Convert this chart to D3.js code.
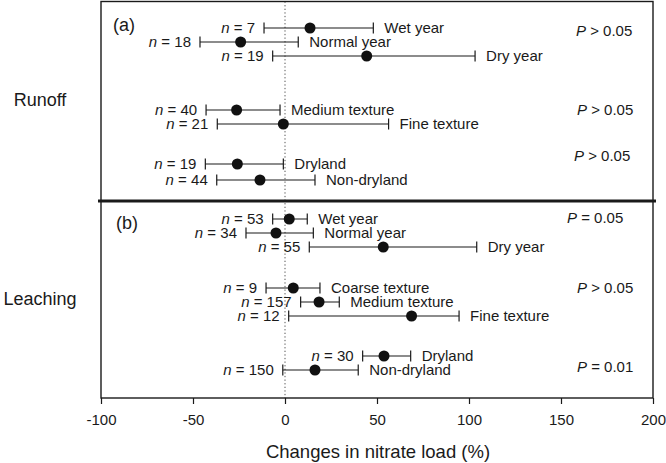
<!DOCTYPE html>
<html>
<head>
<meta charset="utf-8">
<script src="https://cdn.jsdelivr.net/npm/d3@7"></script>
<style>
  body { margin: 0; background: #fff; }
  svg { display: block; font-family: "Liberation Sans", Arial, sans-serif; }
</style>
</head>
<body>
<svg id="chart"></svg>
<script>
// data
var panelTags = ["(a)", "(b)"];
var sideLabels = ["Runoff", "Leaching"];
var pLabels = [["P", " > 0.05"], ["P", " > 0.05"], ["P", " > 0.05"], ["P", " = 0.05"], ["P", " > 0.05"], ["P", " = 0.01"]];
var rowGroup = [0, 0, 0, 1, 1, 2, 2, 3, 3, 3, 4, 4, 4, 5, 5];
var rowLabels = ["Wet year", "Normal year", "Dry year", "Medium texture", "Fine texture", "Dryland", "Non-dryland",
                 "Wet year", "Normal year", "Dry year", "Coarse texture", "Medium texture", "Fine texture", "Dryland", "Non-dryland"];
var nValues = [7, 18, 19, 40, 21, 19, 44, 53, 34, 55, 9, 157, 12, 30, 150];
var means = [13.6, -24.1, 44.4, -26.3, -0.9, -25.9, -13.6, 2.3, -4.9, 53.4, 4.5, 18.5, 68.8, 53.8, 16.3];
var lower = [-11.4, -46.2, -6.7, -42.9, -36.8, -43.3, -37.1, -6.7, -21.2, 13.2, -10.3, 8.5, 2, 42.2, -1.2];
var upper = [48, 7.2, 103.3, -2.7, 56.3, -0.9, 16.3, 12.1, 15.4, 104.2, 19, 29.5, 94.6, 68.3, 39.8];
var xTicks = [-100, -50, 0, 50, 100, 150, 200];
var xTitle = "Changes in nitrate load (%)";

// layout
var W = 666, H = 463;
var plotL = 101, plotR = 653, plotT = 1.5, plotB = 398, divY = 201;
var groupTop = [28, 110, 164, 219, 288, 356];
var groupStep = [14, 14, 16, 14, 14, 14];
var pY = [36, 115, 161, 223, 293, 372];
var pX = [576, 577, 574, 567, 577, 577];
var ink = "#1a1a1a";

var svg = d3.select("#chart").attr("width", W).attr("height", H);

var x = d3.scaleLinear().domain([-100, 200]).range([plotL, plotR]);

// row y from its group and position inside the group
var rowY = function(i) {
    var g = rowGroup[i];
    var k = 0;
    for (var j = 0; j < i; j++) if (rowGroup[j] === g) k++;
    return groupTop[g] + k * groupStep[g];
};

// zero line
svg.append("line")
    .attr("x1", x(0)).attr("x2", x(0))
    .attr("y1", plotT).attr("y2", plotB)
    .attr("stroke", "#555").attr("stroke-width", 1)
    .attr("stroke-dasharray", "1.3,2.3");

// frame
svg.append("rect")
    .attr("x", plotL).attr("y", plotT)
    .attr("width", plotR - plotL).attr("height", plotB - plotT)
    .attr("fill", "none").attr("stroke", ink).attr("stroke-width", 1.4);

svg.append("line")
    .attr("x1", plotL - 3).attr("x2", plotR + 3)
    .attr("y1", divY).attr("y2", divY)
    .attr("stroke", ink).attr("stroke-width", 3.2);

// axis
var axis = svg.append("g")
    .attr("transform", "translate(0," + plotB + ")")
    .call(d3.axisBottom(x).tickValues(xTicks).tickSize(6).tickPadding(10)
        .tickFormat(function(d) { return String(d); }));
axis.select(".domain").remove();
axis.selectAll(".tick line").attr("stroke", ink).attr("stroke-width", 1.2);
axis.selectAll(".tick text")
    .attr("fill", ink).attr("font-size", 15)
    .attr("font-family", "Liberation Sans, Arial, sans-serif");

svg.append("text")
    .attr("x", 378).attr("y", 458)
    .attr("text-anchor", "middle").attr("font-size", 18.5).attr("fill", ink)
    .text(xTitle);

// panel tags and side labels
svg.selectAll(".tag").data(panelTags).enter().append("text")
    .attr("x", function(d, i) { return i === 0 ? 113 : 116; })
    .attr("y", function(d, i) { return i === 0 ? 31 : 229; })
    .attr("font-size", 18).attr("fill", ink)
    .text(function(d) { return d; });

svg.selectAll(".side").data(sideLabels).enter().append("text")
    .attr("x", 40)
    .attr("y", function(d, i) { return i === 0 ? 106 : 305; })
    .attr("text-anchor", "middle").attr("font-size", 18).attr("fill", ink)
    .text(function(d) { return d; });

// P values
var pt = svg.selectAll(".pval").data(pLabels).enter().append("text")
    .attr("x", function(d, i) { return pX[i]; })
    .attr("y", function(d, i) { return pY[i]; })
    .attr("font-size", 15).attr("fill", ink);
pt.append("tspan").attr("font-style", "italic").text(function(d) { return d[0]; });
pt.append("tspan").text(function(d) { return d[1]; });

// error bars
var rows = svg.selectAll(".row").data(means).enter().append("g")
    .attr("transform", function(d, i) { return "translate(0," + rowY(i) + ")"; });

rows.append("line")
    .attr("x1", function(d, i) { return x(lower[i]); })
    .attr("x2", function(d, i) { return x(upper[i]); })
    .attr("stroke", ink).attr("stroke-width", 1.2);
rows.append("line")
    .attr("x1", function(d, i) { return x(lower[i]); })
    .attr("x2", function(d, i) { return x(lower[i]); })
    .attr("y1", -5.5).attr("y2", 5.5)
    .attr("stroke", ink).attr("stroke-width", 1.2);
rows.append("line")
    .attr("x1", function(d, i) { return x(upper[i]); })
    .attr("x2", function(d, i) { return x(upper[i]); })
    .attr("y1", -5.5).attr("y2", 5.5)
    .attr("stroke", ink).attr("stroke-width", 1.2);
rows.append("circle")
    .attr("cx", function(d) { return x(d); })
    .attr("r", 5.5).attr("fill", "#111");

// n labels
var nt = rows.append("text")
    .attr("x", function(d, i) { return x(lower[i]) - 9; })
    .attr("dy", "0.35em")
    .attr("text-anchor", "end").attr("font-size", 15).attr("fill", ink);
nt.append("tspan").attr("font-style", "italic").text("n");
nt.append("tspan").text(function(d, i) { return " = " + nValues[i]; });

// category labels
rows.append("text")
    .attr("x", function(d, i) { return x(upper[i]) + 11; })
    .attr("dy", "0.35em")
    .attr("font-size", 15).attr("fill", ink)
    .text(function(d, i) { return rowLabels[i]; });
</script>
</body>
</html>
